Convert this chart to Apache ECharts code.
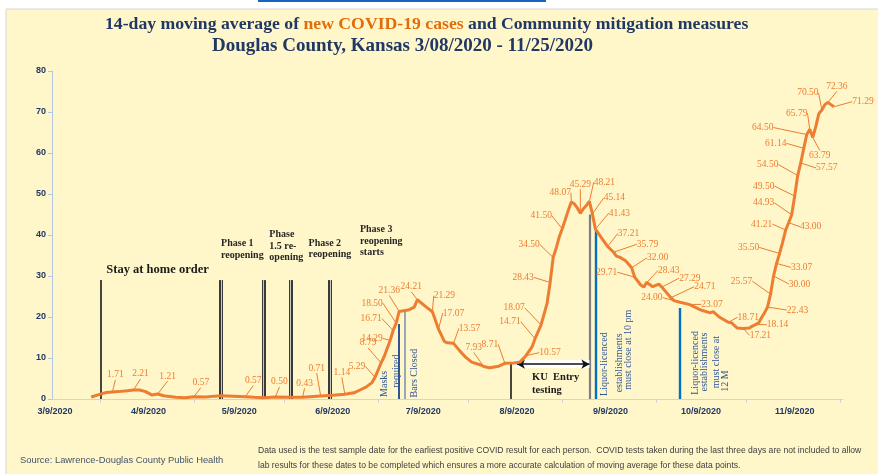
<!DOCTYPE html>
<html>
<head>
<meta charset="utf-8">
<script src="https://cdn.jsdelivr.net/npm/echarts@6/dist/echarts.min.js"></script>
<style>
  html, body { margin: 0; padding: 0; background: #fff; }
  #chart { width: 878px; height: 474px; }
</style>
</head>
<body>
<div id="chart"></div>
<script>
// 14-day moving average of new cases
var caseDates = [
  '3/21/2020','3/24/2020','3/26/2020','3/28/2020','3/30/2020','4/2/2020','4/4/2020','4/6/2020','4/8/2020','4/10/2020',
  '4/12/2020','4/14/2020','4/18/2020','4/21/2020','4/24/2020','4/28/2020','5/1/2020','5/3/2020','5/7/2020','5/11/2020',
  '5/14/2020','5/17/2020','5/21/2020','5/26/2020','5/30/2020','6/5/2020','6/9/2020','6/13/2020','6/16/2020','6/18/2020',
  '6/20/2020','6/22/2020','6/23/2020','6/25/2020','6/26/2020','6/28/2020','6/29/2020','6/30/2020','7/1/2020','7/4/2020',
  '7/6/2020','7/7/2020','7/10/2020','7/12/2020','7/14/2020','7/16/2020','7/17/2020','7/19/2020','7/21/2020','7/23/2020',
  '7/25/2020','7/28/2020','7/29/2020','7/31/2020','8/3/2020','8/5/2020','8/8/2020','8/10/2020','8/12/2020','8/14/2020',
  '8/15/2020','8/17/2020','8/19/2020','8/20/2020','8/21/2020','8/22/2020','8/23/2020','8/24/2020','8/25/2020','8/26/2020',
  '8/27/2020','8/28/2020','8/29/2020','8/30/2020','8/31/2020','9/1/2020','9/2/2020','9/3/2020','9/4/2020','9/6/2020',
  '9/8/2020','9/10/2020','9/11/2020','9/12/2020','9/14/2020','9/16/2020','9/17/2020','9/19/2020','9/20/2020','9/21/2020',
  '9/23/2020','9/25/2020','9/26/2020','9/29/2020','9/30/2020','10/2/2020','10/5/2020','10/9/2020','10/12/2020','10/13/2020',
  '10/15/2020','10/18/2020','10/19/2020','10/21/2020','10/23/2020','10/25/2020','10/26/2020','10/27/2020','10/28/2020','10/29/2020',
  '10/30/2020','10/31/2020','11/1/2020','11/2/2020','11/3/2020','11/4/2020','11/5/2020','11/6/2020','11/7/2020','11/8/2020',
  '11/9/2020','11/10/2020','11/11/2020','11/12/2020','11/13/2020','11/14/2020','11/15/2020','11/16/2020','11/17/2020','11/18/2020',
  '11/19/2020','11/20/2020','11/21/2020','11/22/2020'
];
var caseValues = [
  0.5, 1.2, 1.6, 1.71, 1.8, 2.0, 2.21, 2.2, 1.8, 1.0,
  1.21, 0.8, 0.4, 0.3, 0.57, 0.5, 0.7, 0.8, 0.7, 0.57,
  0.4, 0.3, 0.50, 0.4, 0.43, 0.71, 0.9, 1.14, 1.5, 2.2,
  2.9, 4.0, 5.29, 8.79, 10.3, 14.29, 16.71, 18.50, 21.36, 21.7,
  22.4, 24.21, 22.4, 21.29, 17.07, 14.0, 13.7, 13.57, 11.8, 10.2,
  9.0, 8.3, 7.93, 7.6, 8.0, 8.71, 8.8, 9.0, 10.57, 12.7,
  14.71, 18.07, 23.4, 28.43, 34.50, 36.8, 39.5, 41.50, 43.7, 46.0,
  48.07, 47.6, 46.6, 45.29, 46.4, 47.2, 48.21, 45.14, 41.43, 39.3,
  37.21, 35.79, 34.8, 34.6, 33.7, 32.00, 29.71, 27.8, 27.3, 28.43,
  27.4, 28.0, 27.29, 24.71, 24.00, 23.6, 23.07, 21.7, 21.0, 21.3,
  20.0, 18.71, 18.6, 17.3, 17.21, 17.3, 17.8, 18.14, 18.5, 19.8,
  21.0, 22.43, 25.57, 30.00, 33.07, 35.50, 38.2, 41.21, 43.00, 44.93,
  49.50, 54.50, 57.57, 61.14, 64.50, 65.79, 63.79, 66.5, 69.6, 70.50,
  71.8, 72.36, 71.8, 71.29
];

// labelled points and where their label sits from the point (px)
var labelDates = [
  '3/28/2020','4/4/2020','4/12/2020','4/24/2020','5/11/2020','5/21/2020','5/30/2020','6/5/2020','6/13/2020','6/23/2020',
  '6/25/2020','6/28/2020','6/29/2020','6/30/2020','7/1/2020','7/7/2020','7/12/2020','7/14/2020','7/19/2020','7/29/2020',
  '8/5/2020','8/12/2020','8/15/2020','8/17/2020','8/20/2020','8/21/2020','8/24/2020','8/27/2020','8/30/2020','9/2/2020',
  '9/3/2020','9/4/2020','9/8/2020','9/10/2020','9/16/2020','9/17/2020','9/21/2020','9/26/2020','9/29/2020','9/30/2020',
  '10/5/2020','10/18/2020','10/23/2020','10/27/2020','10/31/2020','11/1/2020','11/2/2020','11/3/2020','11/4/2020','11/6/2020',
  '11/7/2020','11/8/2020','11/9/2020','11/10/2020','11/11/2020','11/12/2020','11/13/2020','11/14/2020','11/15/2020','11/18/2020',
  '11/20/2020','11/22/2020'
];
var labelShift = [
  [3,-17],[7,-16],[10,-18],[7,-14],[8,-16],[4,-15],[2,-14],[-4,-28],[-3,-22],[-18,-11],
  [-13,-20],[-18,-2],[-22,-12],[-24,-20],[-10,-21],[-6,-13],[12,-16],[15,-16],[16,-15],[-10,-19],
  [-15,-19],[24,-3],[-25,-17],[-27,-17],[-27,-5],[-24,-13],[-21,-13],[-11,-9],[0,-29],[15,-19],
  [22,-16],[24,-16],[21,-13],[34,-8],[26,-10],[-28,-5],[22,-12],[28,-9],[34,-11],[-22,-3],
  [23,0],[20,-5],[17,7],[22,0],[30,3],[-29,-13],[26,8],[25,4],[-31,-6],[-24,-6],
  [22,4],[-28,-12],[-31,-10],[-30,-11],[26,5],[-28,-5],[-44,-7],[-13,-16],[7,18],[-14,-17],
  [9,-16],[29,-5]
];

// mitigation measures drawn as vertical lines
var eventDates = ['3/24/2020','5/3/2020','5/17/2020','5/26/2020','6/8/2020','7/1/2020','7/3/2020','8/7/2020','9/2/2020','9/4/2020','10/2/2020'];
var eventTops  = [29, 29, 29, 29, 29, 18.3, 21.2, 8.8, 45, 41, 22.2];
var eventKinds = ['black','double','double','double','double','navy','steel','black','gray','blue','blue'];

// KU entry testing span
var kuSpan = ['8/9/2020', '9/2/2020'];
var kuLevel = 8.5;

// text notes: text, anchor date, anchor value, style
var notes = [
  ['Stay at home order', '3/26/2020', 31.5, 'big'],
  ['Phase 1\nreopening', '5/3/2020', 36.5, 'phase'],
  ['Phase\n1.5 re-\nopening', '5/19/2020', 37.3, 'phase'],
  ['Phase 2\nreopening', '6/1/2020', 36.6, 'phase'],
  ['Phase 3\nreopening\nstarts', '6/18/2020', 38.5, 'phase'],
  ['KU  Entry\ntesting', '8/14/2020', 3.7, 'ku'],
  ['Masks', '6/26/2020', 3.7, 'vert'],
  ['required', '6/30/2020', 6.8, 'vert'],
  ['Bars Closed', '7/6/2020', 6.3, 'vert'],
  ['Liquor-licenced', '9/7/2020', 8.5, 'vert'],
  ['establishments', '9/12/2020', 8.8, 'vert'],
  ['must close at 10 pm', '9/15/2020', 12.0, 'vert'],
  ['Liquor-licenced', '10/7/2020', 8.8, 'vert'],
  ['establishments', '10/10/2020', 9.0, 'vert'],
  ['must close at', '10/14/2020', 9.0, 'vert'],
  ['12 M', '10/17/2020', 4.4, 'vert']
];

var ORANGE = '#ed7d31';
var NAVY = '#1f3864';

var chart = echarts.init(document.getElementById('chart'));

// one category per day, 3/8 .. 11/25
var axisDays = [];
var d = new Date(2020, 2, 8);
var end = new Date(2020, 10, 25);
while (d <= end) {
  axisDays.push((d.getMonth() + 1) + '/' + d.getDate() + '/2020');
  d.setDate(d.getDate() + 1);
}
function dayOfMonth(s) { return +s.split('/')[1]; }

var shiftMap = {};
labelDates.forEach(function (dt, i) { shiftMap[dt] = labelShift[i]; });

var lineData = caseDates.map(function (dt, i) {
  return { value: [dt, caseValues[i]], label: { show: !!shiftMap[dt] } };
});

var lineStyles = {
  black: [{ color: '#1a1a1a', width: 1.6 }],
  double: [{ color: '#3a3a3a', width: 4 }, { color: '#c9c9bd', width: 1 }],
  navy: [{ color: '#2f5597', width: 2 }],
  steel: [{ color: '#7f95b5', width: 1.6 }],
  gray: [{ color: '#7f7f7f', width: 2.2 }],
  blue: [{ color: '#0070c0', width: 2.4 }]
};

var markLines = [];
eventDates.forEach(function (dt, i) {
  lineStyles[eventKinds[i]].forEach(function (st) {
    markLines.push([
      { coord: [dt, 0], lineStyle: { color: st.color, width: st.width, type: 'solid' } },
      { coord: [dt, eventTops[i]] }
    ]);
  });
});
// KU arrow, white backing then black double arrow
markLines.push([
  { coord: ['8/8/2020', kuLevel], lineStyle: { color: '#ffffff', width: 8, type: 'solid' } },
  { coord: [kuSpan[1], kuLevel] }
]);
markLines.push([
  { coord: [kuSpan[0], kuLevel], symbol: 'arrow', symbolSize: [7, 8], lineStyle: { color: '#111', width: 1.5, type: 'solid' } },
  { coord: [kuSpan[1], kuLevel], symbol: 'arrow', symbolSize: [7, 8] }
]);

var noteStyles = {
  big:   { fontFamily: 'Liberation Serif', fontWeight: 'bold', fontSize: 12.5, color: '#1a1a1a', align: 'left' },
  phase: { fontFamily: 'Liberation Serif', fontWeight: 'bold', fontSize: 10, lineHeight: 11.5, color: '#262626', align: 'left' },
  ku:    { fontFamily: 'Liberation Serif', fontWeight: 'bold', fontSize: 10.5, lineHeight: 13, color: '#1a1a1a', align: 'left' },
  vert:  { fontFamily: 'Liberation Serif', fontSize: 10, color: '#2f5597', align: 'center', rotate: 90 }
};

var markPoints = notes.map(function (n) {
  var st = noteStyles[n[3]];
  var lab = { show: true, position: 'inside', formatter: n[0], verticalAlign: 'middle' };
  for (var k in st) lab[k] = st[k];
  return { coord: [n[1], n[2]], label: lab };
});

var option = {
  backgroundColor: '#ffffff',
  animation: false,
  title: [{
    text: '{a|14-day moving average of }{b|new COVID-19 cases}{a| and Community mitigation measures}',
    left: 105, top: 15, padding: 0,
    textStyle: {
      rich: {
        a: { fontFamily: 'Liberation Serif', fontWeight: 'bold', fontSize: 17.7, color: NAVY },
        b: { fontFamily: 'Liberation Serif', fontWeight: 'bold', fontSize: 17.7, color: '#e36c0a' }
      }
    }
  }, {
    text: 'Douglas County, Kansas 3/08/2020 - 11/25/2020',
    left: 212, top: 37, padding: 0,
    textStyle: { fontFamily: 'Liberation Serif', fontWeight: 'bold', fontSize: 19, color: NAVY }
  }],
  graphic: [
    { type: 'rect', z: -10, silent: true, shape: { x: 6, y: 9, width: 880, height: 470 },
      style: { fill: '#fff6c9', stroke: '#d6d6d6', lineWidth: 1 } },
    { type: 'rect', z: -9, silent: true, shape: { x: 258, y: 0, width: 288, height: 2 },
      style: { fill: '#1565c0' } },
    { type: 'text', left: 20, top: 456, silent: true,
      style: { text: 'Source: Lawrence-Douglas County Public Health', fontFamily: 'Liberation Sans', fontSize: 9.4, fill: '#44546a' } },
    { type: 'text', left: 258, top: 443, silent: true,
      style: { text: 'Data used is the test sample date for the earliest positive COVID result for each person.  COVID tests taken during the last three days are not included to allow\nlab results for these dates to be completed which ensures a more accurate calculation of moving average for these data points.',
        fontFamily: 'Liberation Sans', fontSize: 8.6, lineHeight: 15, fill: '#404040' } }
  ],
  grid: { left: 52, right: 35, top: 71, bottom: 75 },
  xAxis: {
    type: 'category',
    data: axisDays,
    boundaryGap: false,
    axisLine: { lineStyle: { color: '#d0d4dc', width: 1 } },
    axisTick: { show: true, length: 4, interval: function (i, v) { return dayOfMonth(v) === 24; }, lineStyle: { color: '#d0d4dc' } },
    axisLabel: {
      interval: function (i, v) { return dayOfMonth(v) === 9; },
      color: NAVY, fontFamily: 'Liberation Sans', fontWeight: 'bold', fontSize: 9, margin: 8
    },
    splitLine: { show: false }
  },
  yAxis: {
    type: 'value', min: 0, max: 80, interval: 10,
    axisLine: { show: true, lineStyle: { color: '#b4c7e7' } },
    axisTick: { show: true, length: 4, lineStyle: { color: '#b4c7e7' } },
    axisLabel: { color: NAVY, fontFamily: 'Liberation Sans', fontWeight: 'bold', fontSize: 9, margin: 6 },
    splitLine: { show: false }
  },
  series: [{
    type: 'line',
    data: lineData,
    symbol: 'circle',
    symbolSize: 1,
    showAllSymbol: true,
    itemStyle: { color: ORANGE },
    lineStyle: { color: ORANGE, width: 3 },
    emphasis: { disabled: true },
    z: 3,
    label: {
      position: 'inside',
      formatter: function (p) { return p.value[1].toFixed(2); },
      fontFamily: 'Liberation Serif', fontSize: 9.5, color: ORANGE
    },
    labelLine: { show: true, lineStyle: { color: ORANGE, width: 1 } },
    labelLayout: function (p) {
      var s = shiftMap[caseDates[p.dataIndex]];
      if (!s) return {};
      return { dx: s[0], dy: s[1] };
    },
    markLine: { silent: true, symbol: 'none', label: { show: false }, data: markLines, z: 2 },
    markPoint: { silent: true, symbol: 'circle', symbolSize: 0, data: markPoints }
  }]
};

chart.setOption(option);
</script>
</body>
</html>
